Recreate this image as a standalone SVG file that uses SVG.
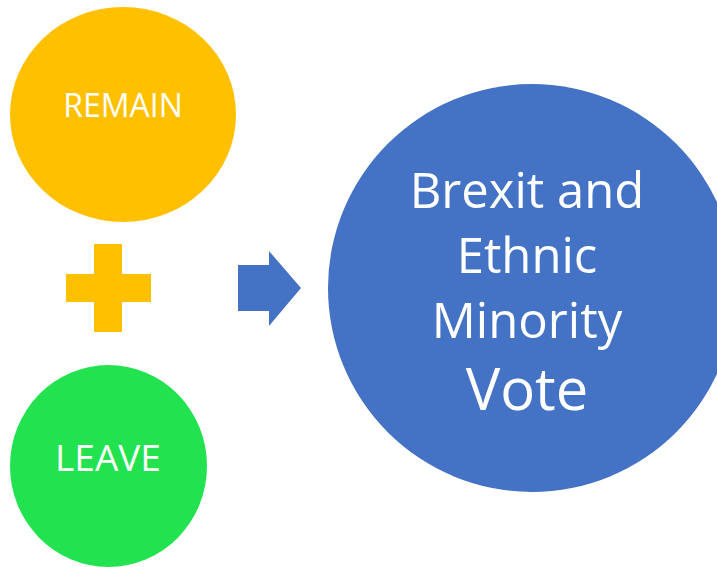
<svg xmlns="http://www.w3.org/2000/svg" width="717" height="567" viewBox="0 0 717 567">
<style>
  .lbl { font-family: "Open Sans", "Noto Sans", "Liberation Sans", sans-serif; fill: #FFFFFF; text-anchor: middle; }
</style>
<rect width="717" height="567" fill="#FFFFFF"/>
<g id="remain">
  <ellipse cx="123" cy="114.5" rx="113" ry="107.5" fill="#FFC000"/>
  <text class="lbl" x="123" y="117" font-size="32">REMAIN</text>
</g>
<g id="plus">
  <path d="M94 244 H122 V274 H151 V302 H122 V332 H94 V302 H66 V274 H94 Z" fill="#FFC000"/>
</g>
<g id="leave">
  <ellipse cx="108.5" cy="466" rx="98.5" ry="101" fill="#23E24F"/>
  <text class="lbl" x="108" y="471" font-size="37">LEAVE</text>
</g>
<g id="connectors">
  <path d="M238 265 H269 V251 L301 288 L269 326 V311 H238 Z" fill="#4472C4"/>
</g>
<g id="brexit">
  <circle cx="532" cy="288" r="204" fill="#4472C4"/>
  <text class="lbl" font-size="49"><tspan x="527" y="208">Brexit and</tspan><tspan x="527" y="273">Ethnic</tspan><tspan x="527" y="338">Minority</tspan><tspan x="527" y="410" font-size="58">Vote</tspan></text>
</g>
</svg>
